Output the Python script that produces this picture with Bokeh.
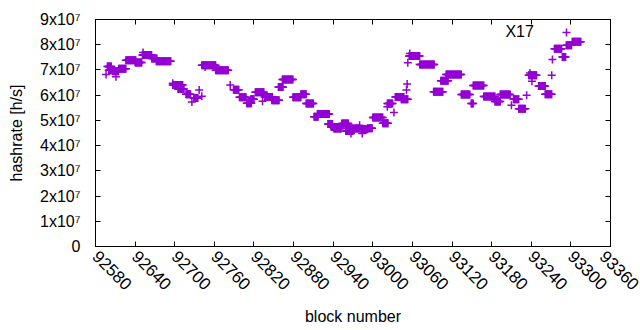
import math
from bokeh.plotting import figure
from bokeh.models import (ColumnDataSource, FixedTicker, LinearAxis, Range1d,
                          Legend, LegendItem, Label, CustomJSTickFormatter)
from bokeh.embed import file_html
from bokeh.resources import INLINE

# ---- data: runs of blocks sharing one hashrate estimate (first block, last block, hashrate in 1e7 h/s)
run_first = [92596, 92598, 92600, 92611, 92606, 92615, 92626, 92640, 92651, 92652,
             92665, 92672, 92697, 92697, 92705, 92717, 92726, 92729, 92737, 92741,
             92741, 92746, 92762, 92784, 92789, 92798, 92809, 92815, 92822, 92833,
             92836, 92847, 92857, 92863, 92879, 92891, 92899, 92911, 92916, 92932,
             92937, 92941, 92953, 92959, 92964, 92980, 92967, 92984, 92982, 92992,
             93000, 93015, 93022, 93022, 93032, 93034, 93043, 93051, 93052, 93053,
             93055, 93056, 93071, 93092, 93103, 93111, 93134, 93149, 93152, 93168,
             93185, 93193, 93210, 93213, 93221, 93233, 93236, 93238, 93241, 93251,
             93261, 93271, 93272, 93275, 93287, 93293, 93302]
run_last = [92596, 92604, 92608, 92611, 92615, 92626, 92641, 92650, 92665, 92652,
            92673, 92694, 92697, 92712, 92714, 92724, 92726, 92735, 92737, 92741,
            92762, 92746, 92781, 92784, 92797, 92808, 92816, 92820, 92835, 92833,
            92848, 92858, 92864, 92879, 92891, 92899, 92910, 92917, 92934, 92939,
            92949, 92952, 92963, 92970, 92980, 92980, 92967, 92984, 92992, 92999,
            93015, 93023, 93030, 93022, 93032, 93047, 93053, 93051, 93052, 93053,
            93071, 93056, 93093, 93106, 93114, 93134, 93147, 93152, 93168, 93185,
            93193, 93208, 93210, 93221, 93231, 93233, 93248, 93238, 93241, 93261,
            93271, 93271, 93272, 93286, 93292, 93301, 93315]
run_value = [6.82, 7.14, 6.99, 6.73, 6.95, 7.05, 7.38, 7.30, 7.59, 7.69,
             7.45, 7.34, 6.47, 6.40, 6.24, 6.04, 5.73, 5.89, 6.20, 5.96,
             7.19, 7.12, 6.99, 6.40, 6.21, 5.92, 5.68, 5.84, 6.12, 5.76,
             5.93, 5.80, 6.32, 6.62, 5.92, 6.04, 5.67, 5.14, 5.25, 4.86,
             4.74, 4.68, 4.88, 4.58, 4.68, 4.81, 4.48, 4.48, 4.65, 4.69,
             5.11, 4.89, 5.67, 5.54, 5.31, 5.93, 5.84, 6.20, 6.44, 7.29,
             7.55, 7.65, 7.22, 6.14, 6.57, 6.82, 6.03, 5.67, 6.38, 5.95,
             5.75, 6.03, 5.60, 5.84, 5.46, 6.00, 6.79, 6.88, 6.55, 6.36,
             6.04, 6.79, 7.41, 7.84, 7.51, 7.98, 8.12]

series_name = "X17"
x_ticks = [92580, 92640, 92700, 92760, 92820, 92880, 92940, 93000, 93060,
           93120, 93180, 93240, 93300, 93360]
y_ticks = [0, 1e7, 2e7, 3e7, 4e7, 5e7, 6e7, 7e7, 8e7, 9e7]
y_tick_labels = ["0", "1x10\u2077", "2x10\u2077", "3x10\u2077", "4x10\u2077",
                 "5x10\u2077", "6x10\u2077", "7x10\u2077", "8x10\u2077", "9x10\u2077"]

# one point per block
blocks, rates = [], []
for a, b, v in zip(run_first, run_last, run_value):
    for blk in range(a, b + 1):
        blocks.append(blk)
        rates.append(v * 1e7)
src = ColumnDataSource(dict(block=blocks, rate=rates))

FONT = "Liberation Sans"
FS = "16px"
COLOR = "#9400d3"

p = figure(frame_width=515, frame_height=227, output_backend="svg",
           toolbar_location=None, x_range=Range1d(92580, 93360),
           y_range=Range1d(0, 9e7), min_border_left=95, min_border_right=30,
           min_border_top=19, min_border_bottom=84)
p.background_fill_color = "white"
p.border_fill_color = "white"
p.outline_line_color = "black"
p.xgrid.visible = False
p.ygrid.visible = False

r = p.scatter("block", "rate", source=src, marker="cross", size=8,
              line_width=1.5, line_color=COLOR)

for ax in (p.xaxis[0], p.yaxis[0]):
    ax.major_tick_in = 5
    ax.major_tick_out = 0
    ax.minor_tick_line_color = None
    ax.axis_line_color = "black"
    ax.major_tick_line_color = "black"
    ax.major_label_text_font = FONT
    ax.major_label_text_font_size = FS
    ax.major_label_text_color = "black"
    ax.axis_label_text_font = FONT
    ax.axis_label_text_font_size = FS
    ax.axis_label_text_font_style = "normal"
    ax.axis_label_text_color = "black"

p.xaxis[0].ticker = FixedTicker(ticks=x_ticks)
p.xaxis[0].major_label_orientation = -math.pi / 4
p.xaxis[0].major_label_text_font_size = "17px"
p.xaxis[0].major_label_standoff = 7
p.xaxis[0].axis_label = "block number"
p.xaxis[0].axis_label_standoff = 10

p.yaxis[0].ticker = FixedTicker(ticks=y_ticks)
p.yaxis[0].major_label_overrides = {float(t): s for t, s in zip(y_ticks, y_tick_labels)}
p.yaxis[0].major_label_standoff = 15
p.yaxis[0].axis_label = "hashrate [h/s]"
p.yaxis[0].axis_label_standoff = 12

# mirrored ticks on top and right
blank = CustomJSTickFormatter(code="return '';")
top = LinearAxis(ticker=FixedTicker(ticks=x_ticks), major_tick_in=5, major_tick_out=0,
                 minor_tick_line_color=None, formatter=blank,
                 major_label_standoff=0, axis_line_color="black")
right = LinearAxis(ticker=FixedTicker(ticks=y_ticks), major_tick_in=5, major_tick_out=0,
                   minor_tick_line_color=None, formatter=blank,
                   major_label_standoff=0, axis_line_color="black")
p.add_layout(top, "above")
p.add_layout(right, "right")

# key: text then sample (gnuplot style)
p.add_layout(Label(x=93244, y=8.54e7, text=series_name, text_align="right",
                   text_baseline="middle", text_font=FONT, text_font_size=FS,
                   text_color="black"))
legend = Legend(items=[LegendItem(label=" ", renderers=[r])], location=(461, 204),
                border_line_color=None, background_fill_alpha=0, padding=0, margin=0,
                glyph_width=20, glyph_height=20, label_width=0, label_standoff=0,
                label_text_font_size="1px")
p.add_layout(legend)

open("out.html", "w").write(file_html(p, INLINE))
